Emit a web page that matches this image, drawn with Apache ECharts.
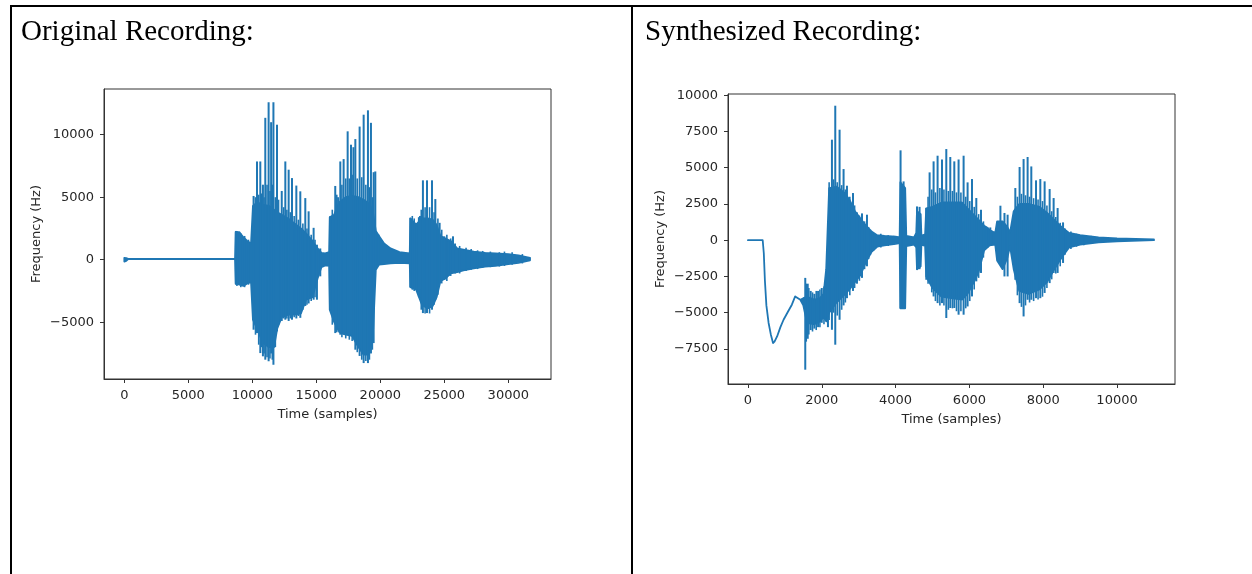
<!DOCTYPE html>
<html>
<head>
<meta charset="utf-8">
<title>Recordings</title>
<script src="https://cdn.jsdelivr.net/npm/echarts@6/dist/echarts.min.js"></script>
<style>
  html, body { margin: 0; padding: 0; background: #fff; width: 1252px; height: 574px; overflow: hidden; }
  #chart { position: absolute; left: 0; top: 0; width: 1252px; height: 574px; }
  .rule { position: absolute; background: #000; }
  .caption { position: absolute; font-family: "Liberation Serif", "Times New Roman", serif; font-size: 29px; line-height: 29px; color: #000; white-space: nowrap; }
</style>
</head>
<body>
<div id="chart"></div>
<div class="rule" style="left:10px;top:5px;width:1242px;height:2px"></div>
<div class="rule" style="left:10px;top:5px;width:2px;height:569px"></div>
<div class="rule" style="left:631px;top:5px;width:2px;height:569px"></div>
<div class="caption" style="left:21px;top:16px">Original Recording:</div>
<div class="caption" style="left:645px;top:16px">Synthesized Recording:</div>

<script>
  // original recording: dense body of the waveform (x, upper, lower)
  var origX  = [0, 150, 300, 8650, 8700, 9000, 9300, 9600, 9900, 10050, 10400, 10800, 11300, 11700, 11950, 12300, 12800, 13300, 13800, 14200, 14700, 15100, 15400, 15700, 16000, 16050, 16400, 16800, 17300, 17800, 18300, 18700, 19100, 19400, 19650, 19900, 20300, 20800, 21500, 22300, 22350, 22800, 23250, 23700, 24100, 24400, 24700, 25100, 25500, 26000, 26500, 27300, 28200, 29000, 30000, 30800, 31700];
  var origHi = [150, 120, 60, 60, 2200, 2200, 1800, 1500, 1300, 4300, 4600, 4400, 4300, 4000, 3800, 3600, 3300, 2900, 2500, 2100, 1500, 900, 550, 500, 600, 3400, 3600, 4600, 5000, 5100, 5000, 4800, 4500, 4000, 2300, 1900, 1300, 900, 600, 500, 3300, 2800, 3300, 3300, 3200, 2800, 1900, 1700, 1500, 900, 800, 650, 550, 500, 450, 350, 150];
  var origLo = [-150, -100, 40, 40, -1900, -2000, -2100, -1900, -1800, -4800, -5600, -6600, -7000, -7000, -5500, -4600, -4400, -4400, -4300, -3200, -3000, -1500, -600, -450, -500, -4000, -5000, -5800, -6000, -6100, -7000, -7600, -7600, -6500, -800, -400, -350, -300, -250, -300, -2200, -2400, -3600, -3900, -3700, -3000, -1700, -1500, -1100, -1000, -850, -700, -550, -500, -350, -250, -50];

  // original recording: tall single peaks
  var origSpikeX  = [8720, 8850, 10100, 10365, 10625, 10830, 11015, 11275, 11470, 11650, 11930, 12300, 12580, 12840, 13100, 13440, 13750, 14140, 14400, 14790, 15050, 15310, 16100, 16480, 16700, 16875, 17135, 17450, 17710, 17900, 18050, 18385, 18700, 19035, 19270, 19480, 19610, 19870, 22350, 22810, 23100, 23330, 23650, 24040, 24300, 24635, 25000, 25340, 25680];
  var origSpikeHi = [2300, 2000, 5100, 7860, 7860, 6000, 11350, 12600, 11000, 12600, 10800, 5500, 7860, 7200, 6530, 5930, 5470, 4930, 3870, 2550, 1200, 900, 3500, 5900, 5000, 7860, 8050, 10270, 9200, 9000, 9650, 10650, 11600, 11950, 10950, 7000, 7060, 2000, 3350, 2660, 3500, 6350, 6350, 6350, 4850, 2950, 1870, 1470, 1870];
  var origSpikeLo = [-2000, -1900, -5600, -5870, -7470, -7730, -8000, -8130, -7500, -8400, -5730, -4900, -4800, -4900, -4800, -4700, -4650, -3700, -3500, -3200, -3200, -1330, -4000, -5870, -5500, -6000, -6000, -6000, -6000, -6100, -7200, -7700, -8270, -8270, -7500, -6670, -800, -400, -2200, -2400, -2400, -4270, -4270, -4000, -3200, -1870, -1600, -1300, -1070];

  // original recording: smaller peaks that roughen the edges of the body
  var origRippleX  = [8800, 9100, 9400, 9700, 10250, 10500, 10730, 10920, 11150, 11380, 11560, 11800, 12050, 12450, 12700, 12970, 13270, 13600, 13950, 14270, 14600, 14900, 16250, 16600, 17000, 17300, 17580, 17800, 18200, 18550, 18870, 19150, 19380, 22500, 22650, 23000, 23200, 23500, 23850, 24200, 24500, 24800, 25200, 25500, 25850, 26200, 26700, 27100, 27600, 28000, 28600, 29300, 29700, 30300, 31100];
  var origRippleHi = [2300, 2100, 1900, 1600, 5000, 5200, 5300, 5000, 6000, 5500, 6000, 5000, 4800, 4200, 4000, 3800, 3500, 3200, 2900, 2500, 2000, 1600, 4000, 5200, 6000, 6500, 6500, 6800, 6500, 6600, 6000, 5800, 5000, 3500, 3300, 3400, 4000, 4200, 4200, 3800, 3300, 2400, 2000, 1700, 1300, 1100, 950, 850, 750, 700, 650, 600, 650, 600, 450];
  var origRippleLo = [-2100, -2200, -2200, -2000, -6000, -6800, -7000, -7500, -7800, -7900, -8000, -7000, -5200, -4700, -4700, -4700, -4600, -4500, -4000, -3600, -3300, -3000, -5200, -5800, -6200, -6300, -6400, -6500, -7400, -8000, -8100, -8000, -7200, -2400, -2500, -3000, -4000, -4300, -4300, -3600, -2800, -1900, -1700, -1300, -1100, -1100, -900, -800, -750, -650, -600, -550, -500, -400, -300];

  // synthesized recording: body (x, upper, lower)
  var synthX  = [0, 400, 430, 460, 500, 560, 620, 680, 720, 790, 880, 965, 1080, 1190, 1280, 1420, 1500, 1600, 1800, 1950, 2050, 2120, 2200, 2400, 2600, 2750, 2900, 3050, 3200, 3350, 3500, 3700, 4000, 4110, 4130, 4260, 4290, 4500, 4560, 4580, 4680, 4700, 4800, 4830, 5000, 5250, 5500, 5800, 5950, 6100, 6250, 6400, 6550, 6700, 6750, 6900, 7030, 7100, 7200, 7350, 7600, 7900, 8100, 8300, 8500, 8700, 9000, 9500, 10000, 11000];
  var synthHi = [0, 0, -900, -2800, -4500, -5710, -6500, -7090, -7000, -6640, -6000, -5490, -4950, -4450, -3880, -4110, -4000, -3900, -4100, -4000, -3700, -2000, 3600, 3700, 3300, 2800, 2000, 1500, 1000, 600, 350, 300, 250, 200, 4000, 3600, 300, 200, 500, 2000, 1800, 300, 400, 2200, 2300, 2600, 2600, 2600, 2200, 1800, 1400, 1000, 700, 500, 1300, 1300, 900, 500, 2000, 2500, 2500, 2300, 1900, 1400, 900, 500, 350, 200, 120, 50];
  var synthLo = [0, 0, -900, -2800, -4500, -5710, -6500, -7090, -7000, -6640, -6000, -5490, -4950, -4450, -3880, -4110, -4500, -5700, -5800, -5600, -5300, -5600, -5000, -4300, -3800, -3400, -2900, -2400, -1500, -800, -450, -350, -250, -200, -4700, -4700, -400, -300, -500, -2000, -1800, -300, -400, -2500, -3300, -3900, -4000, -4100, -3700, -3000, -2200, -700, -350, -300, -1400, -2000, -1200, -400, -2000, -3500, -3700, -3400, -2900, -2000, -1200, -500, -300, -150, -80, 0];

  // synthesized recording: tall single peaks
  var synthSpikeX  = [1553, 1620, 1700, 1800, 1900, 2000, 2168, 2276, 2366, 2483, 2591, 2683, 2846, 2954, 3090, 3225, 3314, 4135, 4217, 4580, 4650, 4832, 4922, 5030, 5138, 5257, 5374, 5482, 5591, 5707, 5843, 5951, 6070, 6187, 6314, 6458, 6566, 6656, 6840, 6950, 7035, 7244, 7360, 7468, 7577, 7677, 7805, 7921, 8038, 8174, 8282, 8390, 8537, 8645];
  var synthSpikeHi = [-2600, -3000, -3500, -3700, -3500, -3300, -400, 6935, 9280, 7625, 4910, 3760, 3255, 1920, 1850, 1760, 725, 6200, 4057, 2330, 2300, 2220, 4680, 5440, 5830, 5570, 6290, 5740, 5440, 5570, 5830, 3990, 4220, 2910, 2100, 950, 880, 500, 2380, 1880, 1760, 3600, 5050, 5600, 5740, 5090, 4130, 4220, 4060, 3530, 2910, 2220, 1230, 610];
  var synthSpikeLo = [-8935, -6800, -6200, -6100, -6000, -5700, -6000, -6180, -7210, -5490, -4500, -4000, -3500, -3000, -2600, -1800, -1000, -4700, -4700, -2030, -2000, -2730, -2730, -3880, -4340, -4340, -5370, -4680, -4680, -5140, -5140, -4570, -3880, -2840, -2260, -540, -310, -310, -1570, -2500, -2500, -2730, -4340, -5260, -4110, -4110, -4000, -4000, -3640, -2960, -2260, -2260, -1570, -650];

  // synthesized recording: smaller peaks along the edges of the body
  var synthRippleX  = [1580, 1650, 1750, 1850, 1950, 2060, 2200, 2320, 2420, 2540, 2640, 2760, 2890, 3020, 3160, 3270, 3420, 3600, 3800, 3950, 4880, 4980, 5080, 5200, 5310, 5430, 5540, 5650, 5770, 5900, 6010, 6130, 6250, 6380, 6500, 7300, 7410, 7520, 7630, 7740, 7860, 7980, 8100, 8230, 8340, 8460, 8590, 8750, 8900, 9100, 9300];
  var synthRippleHi = [-3000, -3300, -3600, -3500, -3400, -3200, 4000, 4200, 4000, 3800, 3500, 3000, 2400, 1700, 1300, 900, 500, 450, 350, 300, 3000, 3500, 3300, 3600, 3500, 3400, 3400, 3300, 3300, 3000, 2700, 2300, 1800, 1300, 900, 3000, 3200, 3100, 3000, 2900, 2800, 2700, 2400, 2000, 1600, 1200, 800, 600, 450, 350, 300];
  var synthRippleLo = [-7000, -6500, -6300, -6200, -6000, -5800, -5500, -5000, -5200, -4800, -4300, -3800, -3300, -2800, -2000, -1300, -700, -500, -400, -300, -3000, -3600, -4200, -4500, -4500, -4800, -4700, -4900, -4900, -4700, -4200, -3400, -2600, -1200, -500, -3800, -4600, -4500, -4300, -4200, -4100, -3900, -3300, -2700, -2300, -1800, -1000, -600, -450, -350, -250];

  // tick labels
  var origXTicks  = [0, 5000, 10000, 15000, 20000, 25000, 30000];
  var origYTicks  = [-5000, 0, 5000, 10000];
  var synthXTicks = [0, 2000, 4000, 6000, 8000, 10000];
  var synthYTicks = [-7500, -5000, -2500, 0, 2500, 5000, 7500, 10000];

  var BLUE = '#1f77b4';
  var INK = '#262626';
  var FONT = 'DejaVu Sans';

  function minus(v) { return String(v).replace('-', '\u2212'); }

  function makeX(idx, min, max, ticks) {
    return {
      type: 'value', gridIndex: idx, min: min, max: max,
      name: 'Time (samples)', nameLocation: 'middle', nameGap: 29,
      nameTextStyle: { fontFamily: FONT, fontSize: 13, color: INK },
      axisLine: { show: true, onZero: false, lineStyle: { color: '#333', width: 1 } },
      axisTick: { show: true, inside: false, length: 4, customValues: ticks, lineStyle: { color: '#333' } },
      axisLabel: { customValues: ticks, margin: 10, fontFamily: FONT, fontSize: 13, color: INK, formatter: minus },
      splitLine: { show: false }
    };
  }

  function makeY(idx, min, max, ticks) {
    return {
      type: 'value', gridIndex: idx, min: min, max: max,
      name: 'Frequency (Hz)', nameLocation: 'middle', nameGap: 61,
      nameTextStyle: { fontFamily: FONT, fontSize: 13, color: INK },
      axisLine: { show: true, onZero: false, lineStyle: { color: '#333', width: 1 } },
      axisTick: { show: true, inside: false, length: 4, customValues: ticks, lineStyle: { color: '#333' } },
      axisLabel: { customValues: ticks, margin: 10, fontFamily: FONT, fontSize: 13, color: INK, formatter: minus },
      splitLine: { show: false }
    };
  }

  // filled body of a waveform, one polygon from the upper and lower edges
  function body(idx, xs, his, los) {
    return {
      type: 'custom', xAxisIndex: idx, yAxisIndex: idx, clip: true, silent: true,
      data: xs.map(function (x, i) { return [x, his[i], los[i]]; }),
      encode: { x: 0, y: [1, 2] },
      renderItem: function (params, api) {
        if (params.dataIndex !== 0) return null;
        var up = xs.map(function (x, i) { return api.coord([x, his[i]]); });
        var dn = xs.map(function (x, i) { return api.coord([x, los[i]]); }).reverse();
        return {
          type: 'polygon',
          shape: { points: up.concat(dn) },
          style: { fill: BLUE, stroke: BLUE, lineWidth: 1.8, lineJoin: 'round' }
        };
      }
    };
  }

  // vertical peaks of the waveform
  function spikes(idx, xs, his, los, width) {
    return {
      type: 'custom', xAxisIndex: idx, yAxisIndex: idx, clip: true, silent: true,
      data: xs.map(function (x, i) { return [x, his[i], los[i]]; }),
      encode: { x: 0, y: [1, 2] },
      renderItem: function (params, api) {
        var a = api.coord([api.value(0), api.value(1)]);
        var b = api.coord([api.value(0), api.value(2)]);
        return {
          type: 'line',
          shape: { x1: a[0], y1: a[1], x2: b[0], y2: b[1] },
          style: { stroke: BLUE, lineWidth: width }
        };
      }
    };
  }

  var chart = echarts.init(document.getElementById('chart'));
  chart.setOption({
    animation: false,
    backgroundColor: 'transparent',
    grid: [
      { left: 104, top: 89, width: 447, height: 290, show: true, borderColor: '#333', borderWidth: 1, containLabel: false, outerBoundsMode: 'none' },
      { left: 728, top: 94, width: 447, height: 290, show: true, borderColor: '#333', borderWidth: 1, containLabel: false, outerBoundsMode: 'none' }
    ],
    xAxis: [
      makeX(0, -1587, 33337, origXTicks),
      makeX(1, -540, 11570, synthXTicks)
    ],
    yAxis: [
      makeY(0, -9544, 13656, origYTicks),
      makeY(1, -9922, 10088, synthYTicks)
    ],
    series: [
      body(0, origX, origHi, origLo),
      spikes(0, origRippleX, origRippleHi, origRippleLo, 1.6),
      spikes(0, origSpikeX, origSpikeHi, origSpikeLo, 2),
      body(1, synthX, synthHi, synthLo),
      spikes(1, synthRippleX, synthRippleHi, synthRippleLo, 1.6),
      spikes(1, synthSpikeX, synthSpikeHi, synthSpikeLo, 2)
    ]
  });
</script>
</body>
</html>
